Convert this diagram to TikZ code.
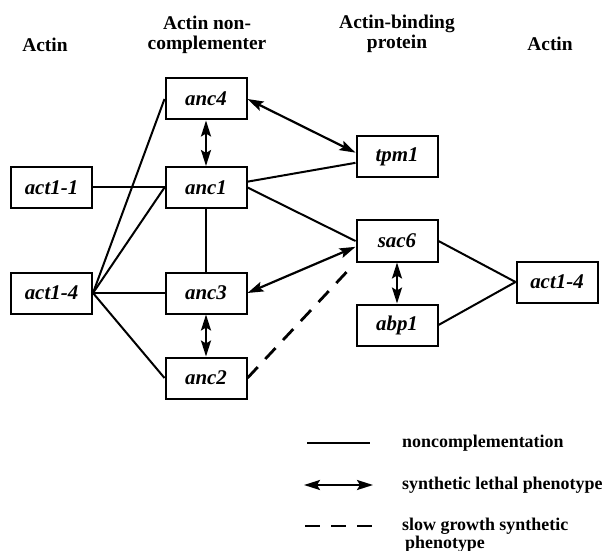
\documentclass[tikz,border=0pt]{standalone}
\usepackage{fontspec}
\setmainfont{Liberation Serif}
\usetikzlibrary{arrows.meta, positioning}

\tikzset{
  gene/.style={draw, line width=2bp, minimum width=81bp, minimum height=41bp, inner sep=0pt,
    font=\fontsize{21}{24}\selectfont\bfseries\itshape},
  head/.style={align=center, anchor=base, inner sep=0pt, font=\fontsize{19.5}{21}\selectfont\bfseries},
  leg/.style={align=left, anchor=base west, inner sep=0pt, font=\fontsize{18}{15.5}\selectfont\bfseries},
  nc/.style={line width=2bp},
  sl/.style={line width=2.2bp, {Stealth[length=16bp, width=10bp, inset=3bp]}-{Stealth[length=16bp, width=10bp, inset=3bp]}},
  sg/.style={line width=2.8bp, dash pattern=on 15bp off 11bp},
}

\begin{document}
\begin{tikzpicture}[x=1bp, y=-1bp, on grid]
    \useasboundingbox (0,0) rectangle (607,551);

    % column headers
    \node (hact) [head] at (45,52) {Actin};
    \node (hanc) [head] at (207,50) {Actin non-\\complementer};
    \node (habp) [head] at (397,49) {Actin-binding\\protein};
    \node (hactr) [head] at (550,51) {Actin};

    % genes
    \node (act11) [gene] at (51.5,187.5) {act1-1};
    \node (act14) [gene, below=105.5bp of act11] {act1-4};
    \node (anc1) [gene, right=154.5bp of act11] {anc1};
    \node (anc4) [gene, above=88.5bp of anc1] {anc4};
    \node (anc3) [gene, right=154.5bp of act14] {anc3};
    \node (anc2) [gene, below=85bp of anc3] {anc2};
    \node (sac6) [gene] at (397,241) {sac6};
    \node (tpm1) [gene, above=84bp of sac6] {tpm1};
    \node (abp1) [gene, below=84bp of sac6] {abp1};
    \node (act14r) [gene, below right=41bp and 160bp of sac6] {act1-4};

    % noncomplementation
    \draw [nc] (act11) -- (anc1);
    \draw [nc] (act14.east) -- (anc4.west);
    \draw [nc] (act14.east) -- (anc1.west);
    \draw [nc] (act14) -- (anc3);
    \draw [nc] (act14.east) -- (anc2.west);
    \draw [nc, line width=1.3bp] (anc1) -- (anc3);
    \draw [nc] (anc1.8) -- (tpm1.188);
    \draw [nc] (anc1.east) -- (sac6.west);
    \draw [nc] (sac6.east) -- (act14r.west);
    \draw [nc] (abp1.east) -- (act14r.west);

    % synthetic lethal
    \draw [sl] (anc4) -- (anc1);
    \draw [sl] (anc3) -- (anc2);
    \draw [sl] (sac6) -- (abp1);
    \draw [sl] (anc4.east) -- (tpm1.174);
    \draw [sl] (anc3.east) -- (sac6.188);

    % slow growth
    \draw [sg, shorten >=3bp] (anc2.east) -- (sac6.south west);

    % legend
    \coordinate (nca) at (307,443);
    \coordinate (ncb) at (370,443);
    \draw [nc, line width=1.4bp] (nca) -- (ncb);
    \node (ncl) [leg] at (402,447) {noncomplementation};
    \coordinate (sla) at (304,485);
    \coordinate (slb) at (373,485);
    \draw [sl] (sla) -- (slb);
    \node (sll) [leg] at (402,489) {synthetic lethal phenotype};
    \coordinate (sga) at (305,526);
    \coordinate (sgb) at (372,526);
    \draw [sg] (sga) -- (sgb);
    \node (sgl) [leg] at (402,548) {slow growth synthetic\\\hspace*{3bp}phenotype};
\end{tikzpicture}
\end{document}
